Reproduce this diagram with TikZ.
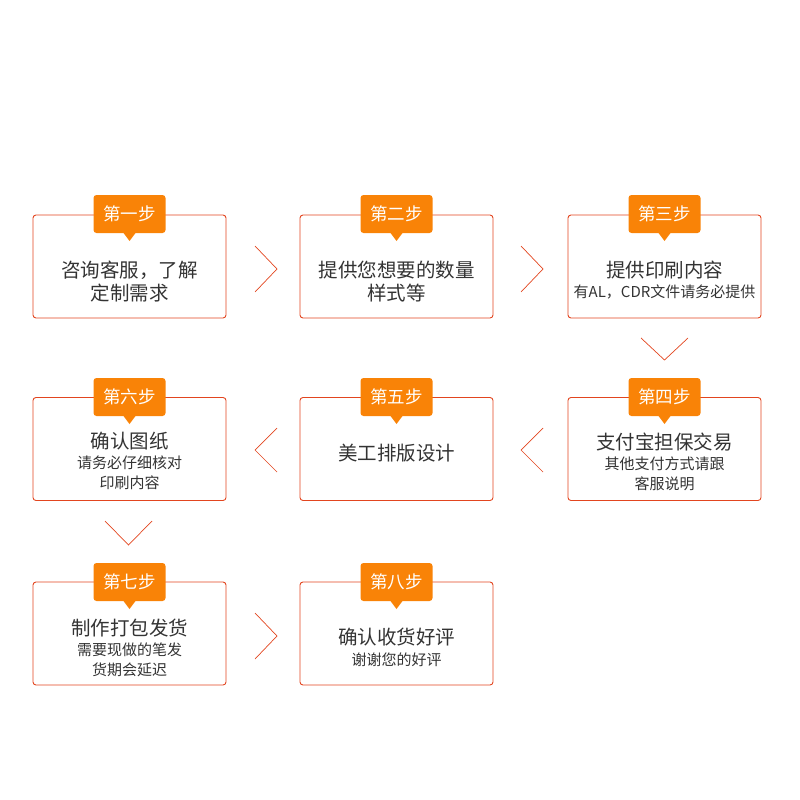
\documentclass[tikz,border=0pt]{standalone}
\usepackage{fontspec}
\setmainfont{Noto Sans CJK SC}
\definecolor{tabc}{HTML}{F98307}
\definecolor{linec}{HTML}{E2451F}
\definecolor{txt}{HTML}{333333}
\begin{document}
\begin{tikzpicture}[x=1pt,y=-1pt,
  box/.style={draw=linec,line width=0.9pt,rounded corners=3pt,minimum width=193pt,minimum height=103pt,inner sep=0pt},
  tab/.style={fill=tabc,rounded corners=3pt,minimum width=72pt,minimum height=38pt,text=white,font=\fontsize{17.5}{17}\selectfont,inner sep=0pt},
  chev/.style={draw=linec,line width=0.7pt},
  main/.style={font=\fontsize{19.5}{23}\selectfont,text=txt,align=center},
  sub/.style={font=\fontsize{15}{18}\selectfont,text=txt,align=center},
  sub2/.style={font=\fontsize{15}{20}\selectfont,text=txt,align=center}]
\useasboundingbox (0,0) rectangle (800,800);
% boxes
\node[box] (b1) at (129.5,266.5) {};
\node[box] (b2) at (396.5,266.5) {};
\node[box] (b3) at (664.5,266.5) {};
\node[box] (b6) at (129.5,449) {};
\node[box] (b5) at (396.5,449) {};
\node[box] (b4) at (664.5,449) {};
\node[box] (b7) at (129.5,633.5) {};
\node[box] (b8) at (396.5,633.5) {};
% tabs
\foreach \n/\x/\y/\t in {1/129.5/214/第一步,2/396.5/214/第二步,3/664.5/214/第三步,6/129.5/397/第六步,5/396.5/397/第五步,4/664.5/397/第四步,7/129.5/582/第七步,8/396.5/582/第八步}{
  \fill[tabc] (\x-6,\y+19) -- (\x,\y+27) -- (\x+6,\y+19) -- cycle;
  \node[tab] (t\n) at (\x,\y) {\t};
}
% texts
\node[main] (m1) at (129.5,282) {咨询客服，了解\\定制需求};
\node[main] (m2) at (396.5,282) {提供您想要的数量\\样式等};
\node[main] (m3) at (664.5,270) {提供印刷内容};
\node[sub] (s3) at (664.5,292) {有AL，CDR文件请务必提供};
\node[main] (m4) at (664.5,442) {支付宝担保交易};
\node[sub2] (s4) at (664.5,474) {其他支付方式请跟\\客服说明};
\node[main] (m5) at (396.5,453) {美工排版设计};
\node[main] (m6) at (129.5,441) {确认图纸};
\node[sub2] (s6) at (129.5,473) {请务必仔细核对\\印刷内容};
\node[main] (m7) at (129.5,628) {制作打包发货};
\node[sub2] (s7) at (129.5,660) {需要现做的笔发\\货期会延迟};
\node[main] (m8) at (396.5,637) {确认收货好评};
\node[sub] (s8) at (396.5,660) {谢谢您的好评};
% chevrons
\draw[chev] (255,246) -- (277,269) -- (255,292);
\draw[chev] (521,246) -- (543,269) -- (521,292);
\draw[chev] (641,338) -- (664.5,360) -- (688,338);
\draw[chev] (543,428) -- (521,450) -- (543,472);
\draw[chev] (277,428) -- (255,450) -- (277,472);
\draw[chev] (105,521) -- (128.5,545) -- (152,521);
\draw[chev] (255,613) -- (277,636) -- (255,659);
\end{tikzpicture}
\end{document}
